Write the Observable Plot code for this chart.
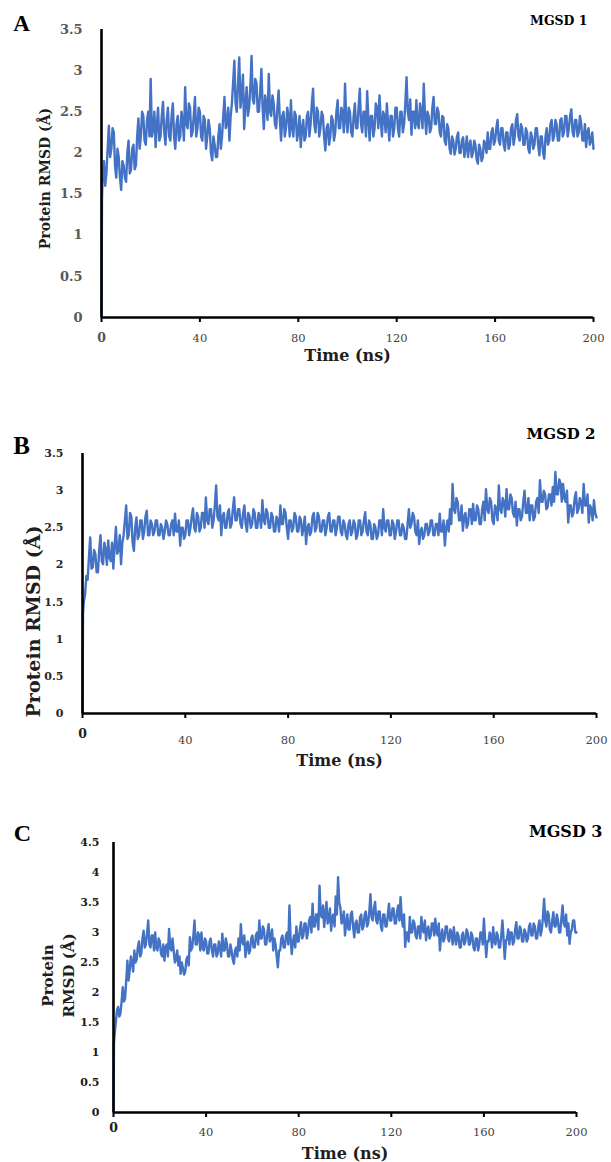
<!DOCTYPE html>
<html><head><meta charset="utf-8">
<script src="https://cdn.jsdelivr.net/npm/d3@7"></script>
<script src="https://cdn.jsdelivr.net/npm/@observablehq/plot@0.6"></script>
<style>
html,body{margin:0;padding:0;background:#fff;}
#fig{position:relative;width:611px;height:1162px;overflow:hidden;background:#fff;}
#fig svg{position:absolute;left:0;}
</style></head><body><div id="fig"></div>
<script>
// ---- data (0.5 ns sampling) ----
const timeNs = [0,0.2,0.5,1,1.5,2,2.5,3,3.5,4,4.5,
5,5.5,6,6.5,7,7.5,8,8.5,9,9.5,
10,10.5,11,11.5,12,12.5,13,13.5,14,14.5,
15,15.5,16,16.5,17,17.5,18,18.5,19,19.5,
20,20.5,21,21.5,22,22.5,23,23.5,24,24.5,
25,25.5,26,26.5,27,27.5,28,28.5,29,29.5,
30,30.5,31,31.5,32,32.5,33,33.5,34,34.5,
35,35.5,36,36.5,37,37.5,38,38.5,39,39.5,
40,40.5,41,41.5,42,42.5,43,43.5,44,44.5,
45,45.5,46,46.5,47,47.5,48,48.5,49,49.5,
50,50.5,51,51.5,52,52.5,53,53.5,54,54.5,
55,55.5,56,56.5,57,57.5,58,58.5,59,59.5,
60,60.5,61,61.5,62,62.5,63,63.5,64,64.5,
65,65.5,66,66.5,67,67.5,68,68.5,69,69.5,
70,70.5,71,71.5,72,72.5,73,73.5,74,74.5,
75,75.5,76,76.5,77,77.5,78,78.5,79,79.5,
80,80.5,81,81.5,82,82.5,83,83.5,84,84.5,
85,85.5,86,86.5,87,87.5,88,88.5,89,89.5,
90,90.5,91,91.5,92,92.5,93,93.5,94,94.5,
95,95.5,96,96.5,97,97.5,98,98.5,99,99.5,
100,100.5,101,101.5,102,102.5,103,103.5,104,104.5,
105,105.5,106,106.5,107,107.5,108,108.5,109,109.5,
110,110.5,111,111.5,112,112.5,113,113.5,114,114.5,
115,115.5,116,116.5,117,117.5,118,118.5,119,119.5,
120,120.5,121,121.5,122,122.5,123,123.5,124,124.5,
125,125.5,126,126.5,127,127.5,128,128.5,129,129.5,
130,130.5,131,131.5,132,132.5,133,133.5,134,134.5,
135,135.5,136,136.5,137,137.5,138,138.5,139,139.5,
140,140.5,141,141.5,142,142.5,143,143.5,144,144.5,
145,145.5,146,146.5,147,147.5,148,148.5,149,149.5,
150,150.5,151,151.5,152,152.5,153,153.5,154,154.5,
155,155.5,156,156.5,157,157.5,158,158.5,159,159.5,
160,160.5,161,161.5,162,162.5,163,163.5,164,164.5,
165,165.5,166,166.5,167,167.5,168,168.5,169,169.5,
170,170.5,171,171.5,172,172.5,173,173.5,174,174.5,
175,175.5,176,176.5,177,177.5,178,178.5,179,179.5,
180,180.5,181,181.5,182,182.5,183,183.5,184,184.5,
185,185.5,186,186.5,187,187.5,188,188.5,189,189.5,
190,190.5,191,191.5,192,192.5,193,193.5,194,194.5,
195,195.5,196,196.5,197,197.5,198,198.5,199,199.5,
200];

const rmsdMGSD1 = [0,1.45,1.75,1.9,1.6,1.75,2.05,2.33,1.95,2.05,2.3,
2.25,1.85,1.7,2.05,1.95,1.7,1.55,1.9,1.85,1.7,
1.65,2.0,2.15,1.75,1.8,2.05,2.1,1.8,1.85,2.2,
2.42,2.05,2.2,2.5,2.45,2.15,2.1,2.4,2.5,2.2,
2.9,2.2,2.3,2.5,2.07,2.35,2.55,2.15,2.2,2.45,
2.62,2.25,2.1,2.4,2.55,2.2,2.15,2.45,2.6,2.2,
2.05,2.35,2.45,2.15,2.2,2.5,2.4,2.15,2.8,2.35,
2.3,2.6,2.55,2.2,2.25,2.45,2.68,2.2,2.3,2.55,
2.5,2.2,2.15,2.45,2.4,2.05,2.2,2.4,2.3,2.0,
1.91,2.2,2.1,1.95,1.95,2.2,2.35,2.05,2.2,2.45,
2.68,2.3,2.35,2.55,2.15,2.45,2.6,2.85,3.12,2.6,
2.5,2.85,3.16,2.55,2.7,2.95,2.29,2.6,2.8,2.45,
2.55,2.8,3.18,2.65,2.6,2.9,2.85,2.5,2.5,2.75,
3.02,2.55,2.29,2.7,2.6,2.4,2.96,2.5,2.45,2.7,
2.6,2.35,2.3,2.55,2.76,2.4,2.15,2.45,2.5,2.2,
2.3,2.55,2.45,2.2,2.64,2.3,2.2,2.5,2.45,2.15,
2.25,2.45,2.07,2.3,2.4,2.15,2.2,2.45,2.5,2.2,
2.35,2.6,2.78,2.35,2.25,2.55,2.5,2.2,2.3,2.5,
2.45,2.2,2.03,2.3,2.35,2.1,2.2,2.45,2.4,2.15,
2.25,2.5,2.64,2.3,2.3,2.55,2.5,2.25,2.84,2.4,
2.25,2.55,2.5,2.25,2.2,2.45,2.6,2.3,2.3,2.55,
2.78,2.35,2.25,2.5,2.5,2.2,2.75,2.4,2.15,2.45,
2.45,2.2,2.3,2.6,2.55,2.3,2.7,2.4,2.2,2.5,
2.45,2.25,2.6,2.35,2.15,2.45,2.45,2.2,2.3,2.55,
2.55,2.3,2.2,2.5,2.5,2.25,2.35,2.6,2.92,2.5,
2.4,2.65,2.22,2.5,2.5,2.3,2.64,2.35,2.3,2.6,
2.5,2.3,2.84,2.45,2.23,2.5,2.45,2.25,2.3,2.55,
2.68,2.35,2.35,2.55,2.5,2.25,2.2,2.45,2.43,2.15,
2.1,2.35,2.3,2.05,1.99,2.2,2.15,1.98,2.05,2.2,
2.25,2.0,2.0,2.15,2.19,1.95,2.05,2.2,1.95,2.1,
2.15,1.95,2.0,2.15,2.1,1.92,1.87,2.1,2.05,1.9,
1.95,2.15,2.11,2.0,2.25,2.05,2.05,2.25,2.3,2.1,
2.15,2.3,2.4,2.15,2.1,2.3,2.3,2.1,2.03,2.25,
2.25,2.05,2.1,2.3,2.35,2.1,2.2,2.4,2.47,2.2,
2.15,2.35,2.3,2.1,2.1,2.3,2.25,2.05,2.0,2.25,
2.2,2.05,2.1,2.3,2.3,2.1,1.97,2.2,2.2,2.0,
1.93,2.2,2.3,2.1,2.15,2.35,2.4,2.15,2.2,2.4,
2.35,2.15,2.15,2.4,2.42,2.2,2.25,2.45,2.45,2.2,
2.3,2.45,2.53,2.25,2.2,2.4,2.4,2.2,2.25,2.45,
2.35,2.15,2.15,2.35,2.07,2.25,2.3,2.1,2.15,2.25,
2.05];

const rmsdMGSD2 = [0,1.35,1.5,1.6,1.85,1.8,2.1,2.37,1.95,1.97,2.2,
2.15,1.9,1.9,2.2,2.4,2.05,2.01,2.3,2.2,2.0,
2.33,2.1,2.05,2.3,1.95,2.25,2.51,2.15,2.2,2.4,
2.01,2.3,2.4,2.6,2.8,2.35,2.4,2.7,2.65,2.3,
2.19,2.5,2.64,2.35,2.4,2.6,2.6,2.35,2.45,2.65,
2.73,2.4,2.4,2.6,2.55,2.4,2.45,2.6,2.6,2.4,
2.4,2.55,2.5,2.35,2.45,2.6,2.55,2.4,2.4,2.55,
2.6,2.4,2.69,2.45,2.45,2.6,2.26,2.5,2.5,2.35,
2.4,2.6,2.6,2.4,2.5,2.65,2.76,2.5,2.45,2.7,
2.65,2.45,2.5,2.7,2.7,2.5,2.91,2.6,2.55,2.75,
2.75,2.5,2.6,2.8,3.07,2.65,2.6,2.8,2.4,2.65,
2.7,2.5,2.5,2.7,2.75,2.5,2.55,2.75,2.91,2.6,
2.6,2.75,2.75,2.55,2.5,2.7,2.8,2.55,2.45,2.7,
2.65,2.5,2.55,2.75,2.7,2.5,2.5,2.7,2.65,2.5,
2.87,2.6,2.55,2.75,2.7,2.5,2.5,2.7,2.65,2.45,
2.45,2.65,2.6,2.45,2.8,2.55,2.55,2.75,2.7,2.5,
2.35,2.6,2.6,2.45,2.5,2.7,2.65,2.45,2.45,2.65,
2.6,2.4,2.5,2.65,2.28,2.5,2.55,2.4,2.45,2.65,
2.7,2.45,2.5,2.7,2.65,2.45,2.45,2.6,2.6,2.4,
2.5,2.65,2.7,2.45,2.45,2.6,2.6,2.4,2.5,2.65,
2.65,2.45,2.4,2.6,2.55,2.4,2.35,2.55,2.6,2.4,
2.45,2.6,2.55,2.35,2.4,2.6,2.6,2.4,2.45,2.6,
2.71,2.45,2.4,2.6,2.55,2.35,2.35,2.55,2.5,2.35,
2.4,2.6,2.6,2.4,2.75,2.5,2.45,2.6,2.6,2.4,
2.4,2.6,2.55,2.35,2.45,2.6,2.6,2.4,2.4,2.55,
2.5,2.35,2.35,2.55,2.75,2.5,2.55,2.7,2.65,2.45,
2.4,2.6,2.28,2.45,2.5,2.35,2.4,2.55,2.55,2.4,
2.45,2.6,2.6,2.4,2.4,2.55,2.55,2.4,2.69,2.45,
2.45,2.6,2.26,2.5,2.6,2.45,2.75,2.55,3.09,2.75,
2.7,2.9,2.85,2.6,2.6,2.8,2.46,2.65,2.7,2.5,
2.55,2.75,2.75,2.55,2.82,2.6,2.6,2.8,2.75,2.55,
2.55,2.75,2.85,2.6,3.02,2.75,2.7,2.9,2.85,2.6,
2.55,2.8,2.75,2.6,3.07,2.75,2.7,2.9,2.85,2.65,
3.02,2.75,2.75,2.95,2.9,2.7,2.65,2.85,2.53,2.75,
2.75,2.6,2.65,2.85,3.0,2.7,2.7,2.9,2.6,2.8,
2.8,2.6,2.65,2.85,2.9,2.7,3.14,2.85,2.85,3.0,
2.95,2.75,2.78,2.95,2.95,2.8,3.05,2.85,3.25,2.95,
2.95,3.15,3.1,2.85,3.09,2.9,2.85,3.0,2.57,2.8,
2.8,2.65,2.7,2.9,2.98,2.7,2.75,2.9,2.85,2.7,
3.09,2.8,2.8,2.95,2.57,2.8,2.75,2.6,2.87,2.7,
2.64];

const rmsdMGSD3 = [0,1.15,1.3,1.5,1.7,1.76,1.6,1.65,1.85,2.09,1.85,
1.9,2.2,2.53,2.2,2.37,2.6,2.5,2.35,2.7,2.5,
2.55,2.75,2.85,2.6,2.65,2.9,3.03,2.75,2.8,3.0,
3.2,2.8,2.75,2.95,2.95,2.7,3.0,2.75,2.7,2.9,
2.85,2.65,2.6,2.8,2.53,2.75,2.8,2.6,3.06,2.75,
2.7,2.9,2.7,2.5,2.55,2.7,2.45,2.6,2.31,2.5,
2.4,2.3,2.35,2.55,2.6,2.45,2.92,2.7,2.75,2.95,
3.2,2.8,2.8,3.0,2.95,2.7,3.0,2.75,2.7,2.9,
2.85,2.65,2.65,2.85,2.9,2.7,2.6,2.8,2.8,2.6,
2.65,2.85,2.75,2.6,2.98,2.7,2.7,2.9,2.8,2.6,
2.6,2.8,2.7,2.55,2.48,2.7,2.75,2.6,2.9,2.7,
3.14,2.85,2.8,2.95,2.59,2.8,2.85,2.65,2.7,2.9,
2.95,2.75,2.75,2.95,3.0,2.8,3.2,2.9,2.9,3.1,
3.05,2.8,2.8,3.0,3.14,2.85,2.9,3.05,2.7,2.9,
2.8,2.6,2.42,2.7,2.7,2.9,2.95,2.75,2.75,2.95,
3.0,2.8,3.45,2.9,2.64,2.85,2.95,2.75,3.1,2.85,
2.85,3.05,3.17,2.9,2.95,3.15,3.15,2.9,3.0,3.2,
3.26,3.0,3.48,3.1,3.1,3.3,3.3,3.05,3.78,3.3,
3.25,3.45,3.09,3.3,3.51,3.15,3.2,3.4,3.03,3.25,
3.3,3.1,3.6,3.3,3.92,3.5,3.42,3.15,3.2,3.35,
2.95,3.15,3.3,3.05,3.05,3.3,3.35,3.1,2.92,3.15,
3.2,3.0,3.0,3.25,3.3,3.05,3.1,3.3,3.35,3.1,
3.15,3.35,3.64,3.25,3.2,3.4,3.51,3.2,3.15,3.35,
3.35,3.1,3.03,3.3,3.3,3.1,3.1,3.3,3.48,3.2,
3.2,3.4,3.4,3.15,3.15,3.35,3.45,3.2,3.59,3.25,
3.1,3.3,2.76,3.0,3.0,2.85,3.26,3.0,3.0,3.2,
3.15,2.95,2.9,3.1,3.1,2.9,3.26,3.05,3.0,3.2,
2.87,3.05,3.1,2.9,2.95,3.15,3.15,2.95,3.23,3.0,
2.95,3.15,2.7,2.95,3.05,2.85,2.9,3.1,3.1,2.9,
2.85,3.05,3.0,2.8,3.09,2.9,2.8,3.0,2.95,2.75,
2.75,2.95,3.0,2.8,2.85,3.05,3.0,2.8,2.8,3.0,
2.95,2.75,2.7,2.9,2.9,2.7,2.8,3.0,3.0,2.8,
3.23,2.9,2.59,2.85,2.85,3.0,2.95,2.75,3.09,2.85,
2.8,3.0,2.95,2.75,2.75,2.95,3.2,2.9,2.56,2.85,
2.9,3.05,2.8,3.0,3.0,2.8,2.85,3.05,3.17,2.9,
2.9,3.1,3.05,2.85,2.85,3.05,3.0,2.85,2.9,3.1,
3.15,2.95,2.95,3.15,3.1,2.9,2.9,3.1,3.2,2.95,
3.05,3.25,3.56,3.2,3.1,3.35,3.3,3.05,3.0,3.2,
3.34,3.1,3.1,3.3,3.2,3.0,3.0,3.25,3.45,3.15,
3.1,3.3,2.95,3.15,2.81,3.0,3.05,3.2,3.2,3.0,
3.0];

const xTickValues = [0,40,80,120,160,200];
const yTickValuesAB = [0,0.5,1,1.5,2,2.5,3,3.5];
const yTickValuesC = [0,0.5,1,1.5,2,2.5,3,3.5,4,4.5];
const panelLetters = ["A","B","C"];
const seriesNames = ["MGSD 1","MGSD 2","MGSD 3"];
const xTitle = "Time (ns)";
const yTitle = "Protein RMSD (Å)";
const yTitleLinesC = ["Protein","RMSD (Å)"];

// ---- drawing ----
const FONT = "DejaVu Serif";
const LETTER_FONT = "Liberation Serif";
const fig = document.getElementById("fig");

function panel(values, yTicks, yMax, letter, name, yTitleText, L) {
  if (values.length !== timeNs.length) console.error("length mismatch", name, values.length, timeNs.length);
  const rows = timeNs.map((t, i) => ({t, v: values[i]})).filter(d => d.v !== undefined);
  const p = Plot.plot({
    width: 611, height: L.height,
    marginLeft: L.ml, marginRight: L.mr, marginTop: L.mt, marginBottom: L.mb,
    x: {domain: [0, 200]},
    y: {domain: [0, yMax], axis: null},
    style: {background: "transparent", overflow: "visible", fontFamily: FONT},
    marks: [
      Plot.line(rows, {x: "t", y: "v", stroke: "#4472C4", strokeWidth: 2.4, strokeLinejoin: "round", strokeLinecap: "round"}),
      Plot.ruleX([0], {stroke: "#000", strokeWidth: 2.6}),
      Plot.ruleY([0], {stroke: "#000", strokeWidth: 2.6}),
      Plot.axisX({ticks: xTickValues, tickSize: 5, tickFormat: () => "", label: null, strokeWidth: 2}),
      Plot.text(xTickValues.filter(d => d !== 0), {x: d => d, frameAnchor: "bottom", lineAnchor: "middle", textAnchor: "middle", dy: L.xTickDy, text: d => String(d), fontFamily: FONT, fontSize: 11.5, fill: L.xTickColor}),
      Plot.text([0], {x: d => d, frameAnchor: "bottom", lineAnchor: "middle", textAnchor: "middle", dy: L.zeroDy, text: d => String(d), fontFamily: FONT, fontWeight: "bold", fontSize: 12.5, fill: L.zeroColor}),
      Plot.text(yTicks, {y: d => d, frameAnchor: "left", lineAnchor: "middle", dx: L.yTickDx, textAnchor: "end", text: d => String(d), fontFamily: FONT, fontWeight: "bold", fontSize: L.yTickSize, fill: L.yTickColor}),
      Plot.text([xTitle], {frameAnchor: "bottom", lineAnchor: "middle", textAnchor: "middle", dy: L.xTitleDy, text: d => d, fontFamily: FONT, fontWeight: "bold", fontSize: 16, fill: "#1e1e1e"}),
      Plot.text([yTitleText], {frameAnchor: "left", textAnchor: "middle", lineAnchor: "middle", rotate: -90, dx: L.yTitleDx, dy: L.yTitleDy, text: d => d, fontFamily: FONT, fontWeight: "bold", fontSize: L.yTitleSize, lineHeight: L.yTitleLH || 1, fill: "#1e1e1e"}),
      Plot.text([letter], {frameAnchor: "top-left", textAnchor: "middle", lineAnchor: "middle", dx: L.letterDx, dy: L.letterDy, text: d => d, fontFamily: LETTER_FONT, fontWeight: "bold", fontSize: L.letterSize, fill: "#000"}),
      Plot.text([name], {frameAnchor: "top-right", lineAnchor: "middle", textAnchor: "end", dx: L.nameDx, dy: L.nameDy, text: d => d, fontFamily: FONT, fontWeight: "bold", fontSize: L.nameSize, fill: "#000"})
    ]
  });
  p.style.top = L.top + "px";
  fig.appendChild(p);
}

panel(rmsdMGSD1, yTickValuesAB, 3.5, panelLetters[0], seriesNames[0], yTitle, {
  top: 0, height: 380, ml: 101, mr: 18, mt: 29, mb: 63,
  xTickDy: 21, zeroDy: 20, xTitleDy: 38, xTickColor: "#444", zeroColor: "#555",
  yTickDx: -19, yTickSize: 13, yTickColor: "#5a5a5a",
  yTitleDx: -56, yTitleDy: 5, yTitleSize: 14,
  letterDx: -80, letterDy: -6, letterSize: 23,
  nameDx: -6, nameDy: -9, nameSize: 12.5
});
panel(rmsdMGSD2, yTickValuesAB, 3.5, panelLetters[1], seriesNames[1], yTitle, {
  top: 380, height: 400, ml: 82, mr: 15, mt: 73, mb: 67,
  xTickDy: 27, zeroDy: 20, xTitleDy: 47, xTickColor: "#444", zeroColor: "#222",
  yTickDx: -19, yTickSize: 11, yTickColor: "#262626",
  yTitleDx: -49, yTitleDy: 38, yTitleSize: 19,
  letterDx: -61, letterDy: -8, letterSize: 25,
  nameDx: -1, nameDy: -19, nameSize: 15
});
panel(rmsdMGSD3, yTickValuesC, 4.5, panelLetters[2], seriesNames[2], yTitleLinesC.join("\n"), {
  top: 780, height: 382, ml: 113, mr: 35, mt: 62, mb: 50,
  xTickDy: 20, zeroDy: 15, xTitleDy: 41, xTickColor: "#444", zeroColor: "#222",
  yTickDx: -14, yTickSize: 11, yTickColor: "#1a1a1a",
  yTitleDx: -57, yTitleDy: -2, yTitleSize: 15, yTitleLH: 1.45,
  letterDx: -91, letterDy: -9, letterSize: 24,
  nameDx: 26, nameDy: -11, nameSize: 16
});
</script></body></html>
